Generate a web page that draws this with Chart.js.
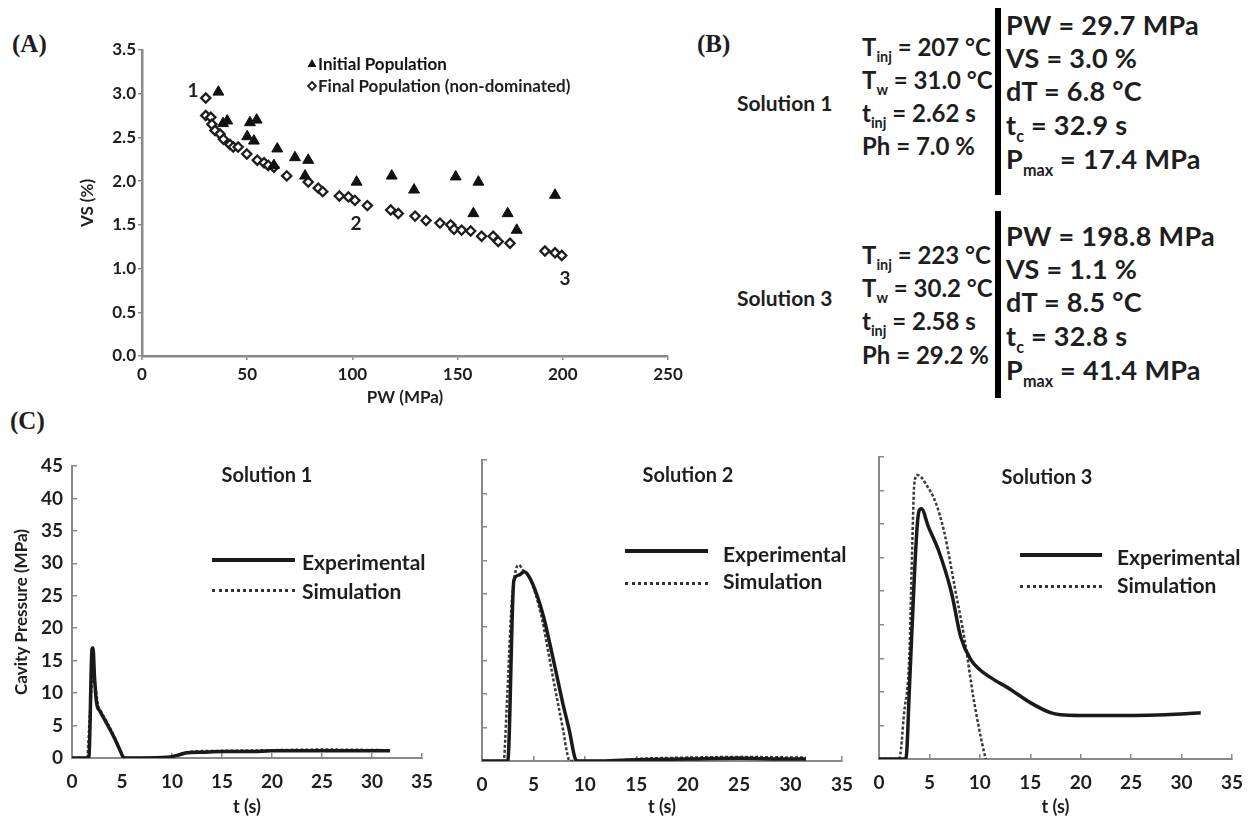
<!DOCTYPE html>
<html><head><meta charset="utf-8">
<script src="https://cdn.jsdelivr.net/npm/chart.js@4.4.1/dist/chart.umd.min.js"></script>
<style>
html,body{margin:0;padding:0;background:#fff;}
body{width:1260px;height:821px;position:relative;overflow:hidden;font-family:Lato,"Open Sans",sans-serif;color:#1e1e1e;}
canvas{position:absolute;display:block;}
.plab{position:absolute;font-family:"Liberation Serif","DejaVu Serif",serif;font-weight:bold;font-size:25px;line-height:1;transform:translateY(-50%);}
.t{position:absolute;font-weight:bold;white-space:nowrap;line-height:1;transform:translateY(-50%);}
.c{transform:translate(-50%,-50%);}
.eq{font-size:24px;}
.eq2{font-size:27px;letter-spacing:0.3px;}
.eq sub,.eq2 sub{font-size:60%;vertical-align:-0.45em;line-height:0;letter-spacing:0;}
.sol{font-size:21px;}
.bar{position:absolute;background:#000;width:6px;}
.lg{font-size:21px;}
.ttl{font-size:20px;}
.ls{position:absolute;height:4px;background:#1a1a1a;}
.ld{position:absolute;height:0;border-top:3px dotted #333;}
</style>
</head><body>

<div class="plab" style="left:12px;top:43px;">(A)</div>
<div class="plab" style="left:697px;top:43px;">(B)</div>
<div class="plab" style="left:10px;top:420px;">(C)</div>

<canvas id="cA" width="640" height="380" style="left:60px;top:30px;"></canvas>
<canvas id="c1" width="450" height="381" style="left:0px;top:440px;"></canvas>
<canvas id="c2" width="420" height="381" style="left:450px;top:440px;"></canvas>
<canvas id="c3" width="410" height="381" style="left:850px;top:440px;"></canvas>

<!-- Panel B -->
<div class="t sol" style="left:737px;top:102px;">Solution 1</div>
<div class="t eq" style="left:862px;top:47px;">T<sub>inj</sub> = 207 °C</div>
<div class="t eq" style="left:862px;top:80px;">T<sub>w</sub> = 31.0 °C</div>
<div class="t eq" style="left:862px;top:113px;">t<sub>inj</sub> = 2.62 s</div>
<div class="t eq" style="left:862px;top:146px;">Ph = 7.0 %</div>
<div class="bar" style="left:995px;top:8px;height:187px;"></div>
<div class="t eq2" style="left:1006px;top:24px;">PW = 29.7 MPa</div>
<div class="t eq2" style="left:1006px;top:57px;">VS = 3.0 %</div>
<div class="t eq2" style="left:1006px;top:90px;">dT = 6.8 °C</div>
<div class="t eq2" style="left:1006px;top:124px;">t<sub>c</sub> = 32.9 s</div>
<div class="t eq2" style="left:1006px;top:158px;">P<sub>max</sub> = 17.4 MPa</div>

<div class="t sol" style="left:737px;top:297px;">Solution 3</div>
<div class="t eq" style="left:862px;top:255px;">T<sub>inj</sub> = 223 °C</div>
<div class="t eq" style="left:862px;top:288px;">T<sub>w</sub> = 30.2 °C</div>
<div class="t eq" style="left:862px;top:321px;">t<sub>inj</sub> = 2.58 s</div>
<div class="t eq" style="left:862px;top:355px;">Ph = 29.2 %</div>
<div class="bar" style="left:995px;top:211px;height:187px;"></div>
<div class="t eq2" style="left:1006px;top:235px;">PW = 198.8 MPa</div>
<div class="t eq2" style="left:1006px;top:268px;">VS = 1.1 %</div>
<div class="t eq2" style="left:1006px;top:301px;">dT = 8.5 °C</div>
<div class="t eq2" style="left:1006px;top:335px;">t<sub>c</sub> = 32.8 s</div>
<div class="t eq2" style="left:1006px;top:369px;">P<sub>max</sub> = 41.4 MPa</div>

<!-- Panel C titles and legends -->
<div class="t ttl c" style="left:267px;top:474px;">Solution 1</div>
<div class="t ttl c" style="left:688px;top:474px;">Solution 2</div>
<div class="t ttl c" style="left:1047px;top:476px;">Solution 3</div>

<div class="ls" style="left:212px;top:558px;width:83px;"></div>
<div class="t lg" style="left:302px;top:561px;">Experimental</div>
<div class="ld" style="left:212px;top:589px;width:83px;"></div>
<div class="t lg" style="left:302px;top:590px;">Simulation</div>

<div class="ls" style="left:625px;top:549px;width:83px;"></div>
<div class="t lg" style="left:723px;top:553px;">Experimental</div>
<div class="ld" style="left:625px;top:582px;width:83px;"></div>
<div class="t lg" style="left:723px;top:580px;">Simulation</div>

<div class="ls" style="left:1020px;top:553px;width:82px;"></div>
<div class="t lg" style="left:1117px;top:556px;">Experimental</div>
<div class="ld" style="left:1020px;top:585px;width:82px;"></div>
<div class="t lg" style="left:1117px;top:584px;">Simulation</div>

<script>
// ---------- Panel A data ----------
const initialPW = [36.3, 38.5, 40.5, 50.0, 51.3, 53.2, 54.5, 62.7, 64.3, 72.7, 77.5, 79.0, 102.0, 118.7, 129.3, 149.1, 157.5, 159.9, 173.8, 178.1, 196.3];
const initialVS = [3.02, 2.66, 2.69, 2.51, 2.67, 2.46, 2.70, 2.18, 2.37, 2.27, 2.06, 2.24, 1.99, 2.06, 1.90, 2.05, 1.63, 1.99, 1.63, 1.44, 1.84];
const finalPW = [30.3, 30.3, 32.7, 33.2, 34.7, 37.1, 38.7, 41.8, 43.4, 45.7, 49.8, 54.8, 58.0, 60.0, 62.7, 68.8, 79.0, 83.8, 85.9, 93.8, 98.1, 101.2, 107.1, 118.2, 121.8, 129.8, 135.0, 141.6, 146.7, 148.3, 151.9, 156.2, 161.4, 166.9, 169.3, 174.9, 191.5, 196.3, 199.5];
const finalVS = [2.95, 2.75, 2.73, 2.65, 2.58, 2.54, 2.48, 2.42, 2.39, 2.39, 2.31, 2.24, 2.21, 2.18, 2.16, 2.06, 1.99, 1.92, 1.88, 1.83, 1.82, 1.78, 1.72, 1.67, 1.63, 1.60, 1.55, 1.52, 1.50, 1.45, 1.44, 1.43, 1.37, 1.37, 1.31, 1.29, 1.20, 1.18, 1.15];
const pwTicks = [0, 50, 100, 150, 200, 250];
const vsTicks = [0, 0.5, 1.0, 1.5, 2.0, 2.5, 3.0, 3.5];
const pointLabels = ['1', '2', '3'];
const pointLabelPW = [24.2, 101.7, 201.0];
const pointLabelVS = [3.03, 1.51, 0.88];
const legendA = ['Initial Population', 'Final Population (non-dominated)'];

// ---------- Panel C data ----------
const tTicks = [0, 5, 10, 15, 20, 25, 30, 35];
const pTicks = [0, 5, 10, 15, 20, 25, 30, 35, 40, 45];
const panelTitles = ['Solution 1', 'Solution 2', 'Solution 3'];

const t1Exp = [0, 1.5, 1.7, 2.0, 2.1, 2.25, 2.45, 2.8, 3.3, 3.8, 4.3, 4.8, 5.2, 7, 9.5, 10.5, 11.5, 13, 15, 18, 20, 23, 25, 28, 31.8];
const p1Exp = [0, 0, 0.3, 16.8, 17.0, 12.5, 8.6, 7.2, 5.8, 4.4, 2.9, 1.2, 0, 0, 0.1, 0.4, 0.8, 0.9, 1.0, 1.0, 1.1, 1.1, 1.1, 1.1, 1.1];
const t1Sim = [0, 1.5, 1.8, 2.1, 2.3, 2.6, 3.0, 3.5, 4.0, 4.5, 5.0, 5.3, 9.0, 10.5, 11.5, 15, 20, 25, 31.8];
const p1Sim = [0, 0, 7, 13.2, 11.5, 8.2, 6.9, 5.5, 4.0, 2.4, 0.6, 0, 0, 0.4, 0.9, 1.1, 1.2, 1.3, 1.2];

const t2Exp = [0, 2.5, 3.1, 3.6, 4.1, 4.6, 5.3, 6.0, 6.6, 7.2, 7.8, 8.5, 9.1, 9.3, 12, 13.5, 15, 20, 25, 30, 31.5];
const p2Exp = [0, 0, 27.0, 27.8, 28.3, 27.5, 25.0, 21.5, 17.5, 13.3, 9.0, 4.5, 0.2, 0, 0, 0.1, 0.2, 0.3, 0.4, 0.3, 0.3];
const t2Sim = [0, 2.1, 2.4, 2.9, 3.3, 3.6, 4.0, 4.5, 5.2, 5.8, 6.3, 6.9, 7.4, 7.9, 8.3, 8.5, 13, 15, 20, 25, 31.5];
const p2Sim = [0, 0, 8, 24, 28.6, 29.3, 28.5, 27.8, 25.0, 21.5, 17.5, 12.5, 8.5, 4.5, 1.0, 0, 0, 0.3, 0.5, 0.6, 0.5];

const t3Exp = [0, 2.5, 2.7, 3.0, 3.5, 3.8, 4.0, 4.2, 4.9, 5.9, 7.2, 8.1, 9.1, 10.0, 11.0, 13.0, 15.0, 17.0, 18.0, 20, 22, 25.2, 28.4, 31.9];
const p3Exp = [0, 0, 0.3, 10, 27, 35, 37.1, 37.3, 34.6, 31.1, 24.7, 18.2, 14.8, 13.3, 12.2, 10.4, 8.4, 6.9, 6.6, 6.5, 6.5, 6.5, 6.6, 6.9];
const t3Sim = [0, 2.0, 2.5, 3.0, 3.3, 3.5, 3.8, 4.3, 4.6, 5.6, 6.5, 7.5, 8.5, 9.4, 10.5, 10.6];
const p3Sim = [0, 0, 7, 15, 32, 41, 42.3, 41.8, 41.1, 38.3, 33.6, 25.7, 17.7, 8.8, 0.5, 0];

// ---------- helpers ----------
Chart.defaults.font.family = 'Lato, "Open Sans", sans-serif';
Chart.defaults.color = '#1e1e1e';
const zip = (xs, ys) => xs.map((x, i) => ({x: x, y: ys[i]}));
const AX = '#8a8a8a';

const annotPlugin = {
  id: 'annot',
  afterDatasetsDraw(chart, args, opts) {
    const ctx = chart.ctx;
    const xs = chart.scales.x, ys = chart.scales.y;
    ctx.save();
    if (opts.labels) {
      ctx.font = 'bold 19px Lato, sans-serif';
      ctx.fillStyle = '#1e1e1e';
      ctx.textAlign = 'center';
      ctx.textBaseline = 'middle';
      opts.labels.forEach((t, i) => {
        ctx.fillText(t, xs.getPixelForValue(opts.px[i]), ys.getPixelForValue(opts.py[i]));
      });
    }
    if (opts.legend) {
      ctx.font = 'bold 17px Lato, sans-serif';
      ctx.textAlign = 'left';
      ctx.textBaseline = 'middle';
      const lx = opts.legendX, ly = opts.legendY;
      ctx.fillStyle = '#111';
      ctx.beginPath();
      ctx.moveTo(lx, ly - 5); ctx.lineTo(lx + 4.5, ly + 3); ctx.lineTo(lx - 4.5, ly + 3); ctx.closePath(); ctx.fill();
      ctx.fillText(opts.legend[0], lx + 6, ly + 1);
      const dy = ly + 22;
      ctx.beginPath();
      ctx.moveTo(lx, dy - 4); ctx.lineTo(lx + 4, dy); ctx.lineTo(lx, dy + 4); ctx.lineTo(lx - 4, dy); ctx.closePath();
      ctx.fillStyle = '#fff'; ctx.fill(); ctx.strokeStyle = '#222'; ctx.lineWidth = 1.8; ctx.stroke();
      ctx.fillStyle = '#1e1e1e';
      ctx.fillText(opts.legend[1], lx + 6, dy + 1);
    }
    ctx.restore();
  }
};

// ---------- Panel A ----------
new Chart(document.getElementById('cA'), {
  type: 'scatter',
  data: {
    datasets: [
      {label: legendA[0], data: zip(initialPW, initialVS), pointStyle: 'triangle', pointRadius: 6.3, backgroundColor: '#111', borderColor: '#111', borderWidth: 1},
      {label: legendA[1], data: zip(finalPW, finalVS), pointStyle: 'rectRot', pointRadius: 4.6, backgroundColor: '#fff', borderColor: '#1e1e1e', borderWidth: 2.3}
    ]
  },
  options: {
    responsive: false, animation: false, devicePixelRatio: 1,
    layout: {padding: {left: 0, right: 32, top: 20, bottom: 0}},
    plugins: {
      legend: {display: false}, tooltip: {enabled: false},
      annot: {labels: pointLabels, px: pointLabelPW, py: pointLabelVS, legend: legendA, legendX: 252, legendY: 34}
    },
    scales: {
      x: {
        type: 'linear', min: 0, max: 250,
        afterBuildTicks: s => { s.ticks = pwTicks.map(v => ({value: v})); },
        afterFit: s => { s.height = 54; },
        border: {color: AX, width: 2.5},
        grid: {drawOnChartArea: false, drawTicks: true, tickLength: 4, color: AX, lineWidth: 1.5},
        ticks: {font: {size: 17, weight: 'bold'}, padding: 4, color: '#1e1e1e', maxRotation: 0},
        title: {display: true, text: 'PW (MPa)', font: {size: 17, weight: 'bold'}, padding: {top: 0, bottom: 2}, color: '#1e1e1e'}
      },
      y: {
        type: 'linear', min: 0, max: 3.5,
        afterBuildTicks: s => { s.ticks = vsTicks.map(v => ({value: v})); },
        afterFit: s => { s.width = 82; },
        border: {color: AX, width: 2.5},
        grid: {drawOnChartArea: false, drawTicks: true, tickLength: 4, color: AX, lineWidth: 1.5},
        ticks: {font: {size: 17, weight: 'bold'}, padding: 2, color: '#1e1e1e', callback: v => Number(v).toFixed(1)},
        title: {display: true, text: 'VS (%)', font: {size: 17, weight: 'bold'}, padding: {top: 17, bottom: 0}, color: '#1e1e1e'}
      }
    }
  },
  plugins: [annotPlugin]
});

// ---------- Panel C ----------
function pressureChart(id, tE, pE, tS, pS, geom) {
  new Chart(document.getElementById(id), {
    type: 'line',
    data: {
      datasets: [
        {label: 'Experimental', data: zip(tE, pE), borderColor: '#1a1a1a', borderWidth: 3.5, pointRadius: 0, tension: 0.3, cubicInterpolationMode: 'monotone', fill: false},
        {label: 'Simulation', data: zip(tS, pS), borderColor: '#3a3a3a', borderWidth: 2.5, borderDash: [3, 2], pointRadius: 0, tension: 0.3, cubicInterpolationMode: 'monotone', fill: false}
      ]
    },
    options: {
      responsive: false, animation: false, devicePixelRatio: 1,
      layout: {padding: {left: 0, right: geom.right, top: geom.top, bottom: 0}},
      plugins: {legend: {display: false}, tooltip: {enabled: false}},
      scales: {
        x: {
          type: 'linear', min: 0, max: 35,
          afterBuildTicks: s => { s.ticks = tTicks.map(v => ({value: v})); },
          afterFit: s => { s.height = geom.xh; },
          border: {color: AX, width: 2},
          grid: {drawOnChartArea: false, drawTicks: true, tickLength: -5, color: AX, lineWidth: 1.5},
          ticks: {font: {size: 19, weight: 'bold'}, padding: 17, color: '#1e1e1e', maxRotation: 0},
          title: {display: true, text: 't (s)', font: {size: 18, weight: 'bold'}, padding: {top: 0, bottom: 3}, color: '#1e1e1e'}
        },
        y: {
          type: 'linear', min: 0, max: 45,
          afterBuildTicks: s => { s.ticks = pTicks.map(v => ({value: v})); },
          afterFit: s => { s.width = geom.yw; },
          border: {color: AX, width: 2},
          grid: {drawOnChartArea: false, drawTicks: true, tickLength: -5, color: AX, lineWidth: 1.5},
          ticks: {display: geom.ylabels, font: {size: 19, weight: 'bold'}, padding: 14, color: '#1e1e1e'},
          title: {display: geom.ylabels, text: 'Cavity Pressure (MPa)', font: {size: 17, weight: 'bold'}, padding: {top: 11, bottom: 0}, color: '#1e1e1e'}
        }
      }
    }
  });
}
pressureChart('c1', t1Exp, p1Exp, t1Sim, p1Sim, {right: 13, top: 26, xh: 63, yw: 72, ylabels: true});
pressureChart('c2', t2Exp, p2Exp, t2Sim, p2Sim, {right: 25, top: 20, xh: 60, yw: 32, ylabels: false});
pressureChart('c3', t3Exp, p3Exp, t3Sim, p3Sim, {right: 18, top: 17, xh: 62, yw: 29, ylabels: false});
</script>
</body></html>
